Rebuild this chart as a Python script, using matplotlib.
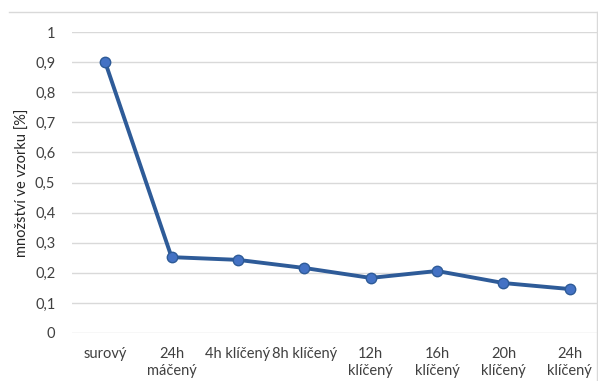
import matplotlib.pyplot as plt
import numpy as np

kategorie = ["surový", "24h\nmáčený", "4h klíčený", "8h klíčený", "12h\nklíčený",
             "16h\nklíčený", "20h\nklíčený", "24h\nklíčený"]
hodnoty = [0.90, 0.252, 0.243, 0.216, 0.183, 0.206, 0.166, 0.146]

plt.rcParams['font.family'] = ['Lato', 'DejaVu Sans']

fig = plt.figure(figsize=(5.98, 3.81), dpi=100)
# plocha grafu, vpravo mirne za okrajem obrazku
ax = fig.add_axes([72 / 598, (381 - 333) / 381, 531 / 598, 301 / 381])

x = np.arange(len(kategorie))
ax.plot(x, hodnoty, color="#2E5B98", linewidth=2.8, marker="o", markersize=7.5,
        markerfacecolor="#4472C4", markeredgecolor="#2E5B98", markeredgewidth=1, zorder=3)

ax.set_xlim(-0.5, len(kategorie) - 0.5)
ax.set_ylim(0, 1)
ax.set_yticks(np.arange(0, 1.01, 0.1))
ax.set_yticklabels(["0", "0,1", "0,2", "0,3", "0,4", "0,5", "0,6", "0,7", "0,8", "0,9", "1"])
ax.set_xticks(x)
ax.set_xticklabels(kategorie, linespacing=1.25)
ax.grid(axis="y", color="#D9D9D9", linewidth=1)
ax.set_axisbelow(True)
for s in ax.spines.values():
    s.set_visible(False)
ax.tick_params(axis="both", length=0, labelsize=10.5, colors="#404040")
ax.tick_params(axis="y", pad=12)
ax.tick_params(axis="x", pad=10)
ax.set_ylabel("množství ve vzorku [%]", fontsize=10.5, color="#262626", labelpad=4)

# ramecek grafu (horni a prava hrana)
fig.add_artist(plt.Line2D([9 / 598, 1], [1 - 12 / 381, 1 - 12 / 381], color="#D9D9D9", linewidth=1))
fig.add_artist(plt.Line2D([597 / 598, 597 / 598], [1 - 12 / 381, 0], color="#D9D9D9", linewidth=1))

fig.savefig("out.png", dpi=100)
